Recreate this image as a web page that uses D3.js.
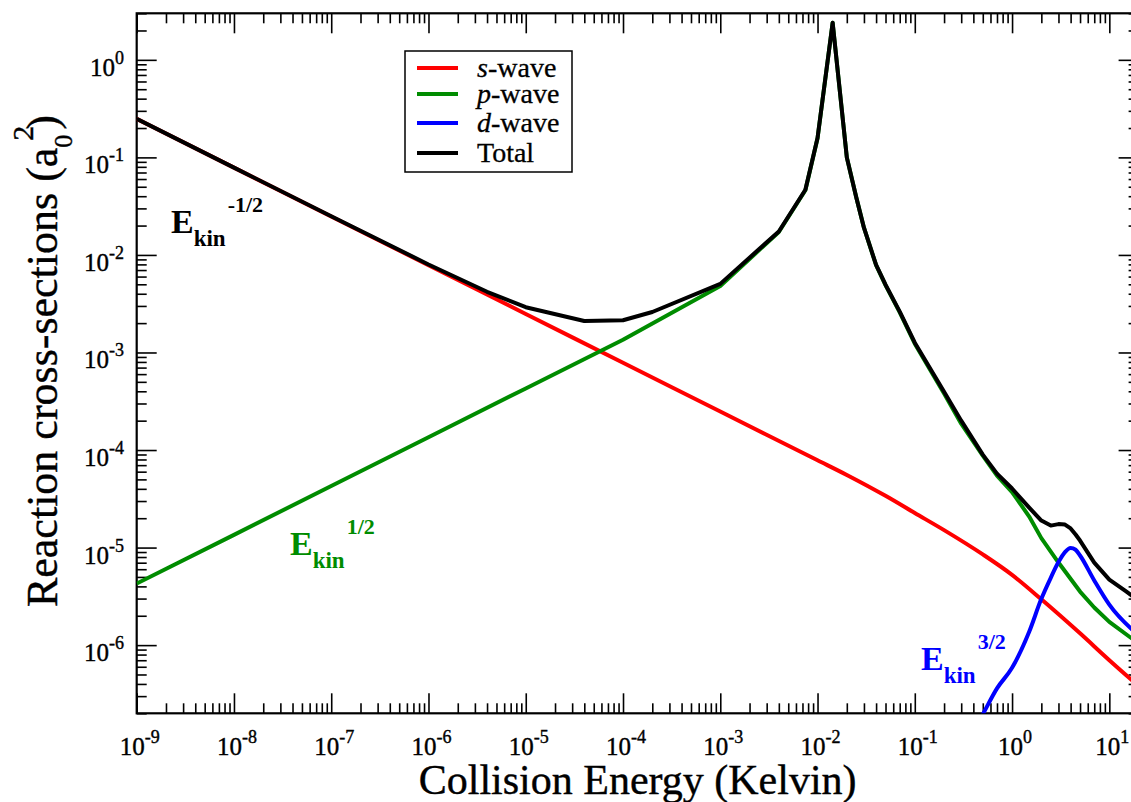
<!DOCTYPE html>
<html>
<head>
<meta charset="utf-8">
<script src="https://cdn.jsdelivr.net/npm/d3@7"></script>
<style>
  html, body { margin: 0; padding: 0; background: #fff; }
  svg { display: block; font-family: "Liberation Serif", "Times New Roman", serif; }
</style>
</head>
<body>
<svg id="chart" width="1131" height="802"></svg>
<script>
// Collision energies (K) and partial-wave reaction cross-sections (a0^2)
const energyS = [1e-9, 1e-8, 1e-7, 1e-6, 1e-5, 1e-4, 1e-3, 1e-2, 0.02, 0.05, 0.1, 0.2, 0.5, 1, 2, 5, 10, 20];
const sWave   = [0.248, 0.0785, 0.0248, 7.85e-3, 2.48e-3, 7.85e-4, 2.48e-4, 7.85e-5, 5.55e-5, 3.39e-5, 2.26e-5, 1.51e-5, 8.51e-6, 5.25e-6, 2.95e-6, 1.32e-6, 7.0e-7, 3.8e-7];

const energyP = [1e-9, 1e-8, 1e-7, 1e-6, 1e-5, 1e-4, 1e-3, 4e-3, 7.5e-3, 1e-2, 1.43e-2, 2e-2, 0.025, 0.03, 0.04, 0.05, 0.07, 0.1, 0.2, 0.3, 0.5, 0.7, 1, 1.5, 2, 3, 5, 7, 10, 20];
const pWave   = [4.28e-6, 1.35e-5, 4.28e-5, 1.35e-4, 4.28e-4, 1.35e-3, 4.8e-3, 1.72e-2, 4.6e-2, 0.157, 2.4, 0.10, 0.039, 0.019, 7.85e-3, 4.9e-3, 2.58e-3, 1.23e-3, 3.8e-4, 1.86e-4, 8.77e-5, 5.47e-5, 3.71e-5, 2.08e-5, 1.25e-5, 7.02e-6, 3.54e-6, 2.43e-6, 1.73e-6, 1.04e-6];

const energyD = [0.4, 0.5, 0.7, 1, 1.5, 2, 2.5, 3, 3.5, 4, 4.5, 5, 7, 10, 20];
const dWave   = [1.3e-7, 1.95e-7, 3.6e-7, 5.85e-7, 1.37e-6, 2.98e-6, 4.9e-6, 7.1e-6, 9.0e-6, 9.9e-6, 9.5e-6, 8.3e-6, 4.6e-6, 2.6e-6, 1.26e-6];

const energyT = [1e-9, 1e-8, 1e-7, 1e-6, 4e-6, 1e-5, 4e-5, 1e-4, 2e-4, 1e-3, 4e-3, 7.5e-3, 1e-2, 1.43e-2, 2e-2, 0.025, 0.03, 0.04, 0.05, 0.07, 0.1, 0.2, 0.3, 0.5, 0.7, 1, 1.5, 2, 2.5, 3, 3.5, 4, 4.5, 5, 7, 10, 15, 20];
const total   = [0.248, 0.0786, 0.0249, 7.99e-3, 4.19e-3, 2.91e-3, 2.10e-3, 2.14e-3, 2.6e-3, 5.05e-3, 1.74e-2, 4.66e-2, 0.158, 2.4, 0.10, 0.039, 0.019, 7.9e-3, 4.95e-3, 2.62e-3, 1.26e-3, 3.96e-4, 2.0e-4, 8.97e-5, 5.73e-5, 4.03e-5, 2.57e-5, 1.89e-5, 1.68e-5, 1.74e-5, 1.72e-5, 1.57e-5, 1.36e-5, 1.18e-5, 7.02e-6, 4.7e-6, 3.54e-6, 2.86e-6];

// Axis decades (exponents of the labelled major ticks)
const xExponents = [-9, -8, -7, -6, -5, -4, -3, -2, -1, 0, 1];
const yExponents = [-6, -5, -4, -3, -2, -1, 0];

const legendNames = [["s", "-wave"], ["p", "-wave"], ["d", "-wave"], ["", "Total"]];
const seriesColors = ["#ff0000", "#008c00", "#0000ff", "#000000"];

// ---- layout ----
const svg = d3.select("#chart");
const plot = { left: 136.7, right: 1138.6, top: 13.3, bottom: 713.3 };

const x = d3.scaleLog().domain([1e-9, 20]).range([plot.left, plot.right]);
const y = d3.scaleLog().domain([2e-7, 3]).range([plot.bottom, plot.top]);

svg.append("rect").attr("width", 1131).attr("height", 802).attr("fill", "#fff");

svg.append("defs").append("clipPath").attr("id", "plotClip")
  .append("rect")
  .attr("x", plot.left).attr("y", plot.top)
  .attr("width", plot.right - plot.left).attr("height", plot.bottom - plot.top);

// ---- ticks on all four sides, pointing inward ----
function minorValues(domain) {
  const out = [];
  const lo = Math.floor(Math.log10(domain[0])), hi = Math.ceil(Math.log10(domain[1]));
  for (let k = lo; k <= hi; k++) {
    for (let m = 2; m <= 9; m++) {
      const v = m * Math.pow(10, k);
      if (v >= domain[0] * 0.999 && v <= domain[1] * 1.001) out.push(v);
    }
  }
  return out;
}
const xMajor = xExponents.map(e => Math.pow(10, e));
const yMajor = yExponents.map(e => Math.pow(10, e));
const xMinor = minorValues(x.domain());
const yMinor = minorValues(y.domain());

function tickLayer(axis, transform) {
  const g = svg.append("g").attr("transform", transform).call(axis);
  g.select(".domain").remove();
  g.selectAll("text").remove();
  g.selectAll("line").attr("stroke", "#000").attr("stroke-width", 1.6);
  return g;
}
const bigTick = 20, smallTick = 10;
tickLayer(d3.axisBottom(x).tickValues(xMajor).tickSize(-bigTick), `translate(0,${plot.bottom})`);
tickLayer(d3.axisBottom(x).tickValues(xMinor).tickSize(-smallTick), `translate(0,${plot.bottom})`);
tickLayer(d3.axisTop(x).tickValues(xMajor).tickSize(-bigTick), `translate(0,${plot.top})`);
tickLayer(d3.axisTop(x).tickValues(xMinor).tickSize(-smallTick), `translate(0,${plot.top})`);
tickLayer(d3.axisLeft(y).tickValues(yMajor).tickSize(-bigTick), `translate(${plot.left},0)`);
tickLayer(d3.axisLeft(y).tickValues(yMinor).tickSize(-smallTick), `translate(${plot.left},0)`);
tickLayer(d3.axisRight(y).tickValues(yMajor).tickSize(-bigTick), `translate(${plot.right},0)`);
tickLayer(d3.axisRight(y).tickValues(yMinor).tickSize(-smallTick), `translate(${plot.right},0)`);

// frame
svg.append("rect")
  .attr("x", plot.left).attr("y", plot.top)
  .attr("width", plot.right - plot.left).attr("height", plot.bottom - plot.top)
  .attr("fill", "none").attr("stroke", "#000").attr("stroke-width", 2.2);

// ---- tick labels: 10 with superscript exponent ----
function powerLabel(sel, exp) {
  sel.append("tspan").text("10");
  sel.append("tspan").attr("font-size", 18).attr("dy", -12).text(exp);
}
xExponents.forEach(e => {
  const t = svg.append("text")
    .attr("x", x(Math.pow(10, e)) + 3).attr("y", 755)
    .attr("text-anchor", "middle").attr("font-size", 25)
    .attr("fill", "#000").attr("stroke", "#000").attr("stroke-width", 0.4);
  powerLabel(t, e);
});
yExponents.forEach(e => {
  const t = svg.append("text")
    .attr("x", 124).attr("y", y(Math.pow(10, e)) + 16)
    .attr("text-anchor", "end").attr("font-size", 25)
    .attr("fill", "#000").attr("stroke", "#000").attr("stroke-width", 0.4);
  powerLabel(t, e);
});

// ---- axis titles ----
svg.append("text")
  .attr("x", (plot.left + plot.right) / 2).attr("y", 794)
  .attr("text-anchor", "middle").attr("font-size", 42)
  .attr("stroke", "#000").attr("stroke-width", 0.4)
  .text("Collision Energy (Kelvin)");

const yt = svg.append("text")
  .attr("transform", "translate(57,361) rotate(-90)")
  .attr("text-anchor", "middle").attr("font-size", 44)
  .attr("stroke", "#000").attr("stroke-width", 0.4);
yt.append("tspan").text("Reaction cross-sections (a");
yt.append("tspan").attr("font-size", 26).attr("dy", 15).text("0");
yt.append("tspan").attr("font-size", 30).attr("dx", -6).attr("dy", -39).text("2");
yt.append("tspan").attr("dx", -4).attr("dy", 24).text(")");

// ---- curves ----
const curves = svg.append("g").attr("clip-path", "url(#plotClip)");
const series = [
  { e: energyS, v: sWave, color: seriesColors[0], curve: d3.curveMonotoneX },
  { e: energyP, v: pWave, color: seriesColors[1], curve: d3.curveLinear },
  { e: energyD, v: dWave, color: seriesColors[2], curve: d3.curveMonotoneX },
  { e: energyT, v: total, color: seriesColors[3], curve: d3.curveLinear }
];
series.forEach(s => {
  const line = d3.line().x(d => x(d[0])).y(d => y(d[1])).curve(s.curve);
  curves.append("path")
    .datum(d3.zip(s.e, s.v))
    .attr("d", line)
    .attr("fill", "none")
    .attr("stroke", s.color)
    .attr("stroke-width", 4)
    .attr("stroke-linejoin", "round");
});

// ---- power-law annotations ----
function powerLaw(px, py, exp, color) {
  const t = svg.append("text")
    .attr("x", px).attr("y", py)
    .attr("font-size", 34).attr("font-weight", "bold").attr("fill", color);
  t.append("tspan").text("E");
  t.append("tspan").attr("font-size", 23).attr("dy", 13).text("kin");
  t.append("tspan").attr("font-size", 22).attr("dx", 2).attr("dy", -34).text(exp);
}
powerLaw(171, 233, "-1/2", "#000");
powerLaw(290, 555, "1/2", seriesColors[1]);
powerLaw(921, 670, "3/2", seriesColors[2]);

// ---- legend ----
const legend = svg.append("g");
legend.append("rect")
  .attr("x", 405).attr("y", 51).attr("width", 167).attr("height", 121)
  .attr("fill", "#fff").attr("stroke", "#000").attr("stroke-width", 1.5);
const rowY = [68, 94, 123, 153];
legendNames.forEach((n, i) => {
  legend.append("line")
    .attr("x1", 417).attr("x2", 458).attr("y1", rowY[i]).attr("y2", rowY[i])
    .attr("stroke", seriesColors[i]).attr("stroke-width", 4);
  const t = legend.append("text")
    .attr("x", 477).attr("y", rowY[i] + 8.5).attr("font-size", 28)
    .attr("stroke", "#000").attr("stroke-width", 0.3);
  t.text(null);
  if (n[0]) t.append("tspan").attr("font-style", "italic").text(n[0]);
  t.append("tspan").text(n[1]);
});
</script>
</body>
</html>
